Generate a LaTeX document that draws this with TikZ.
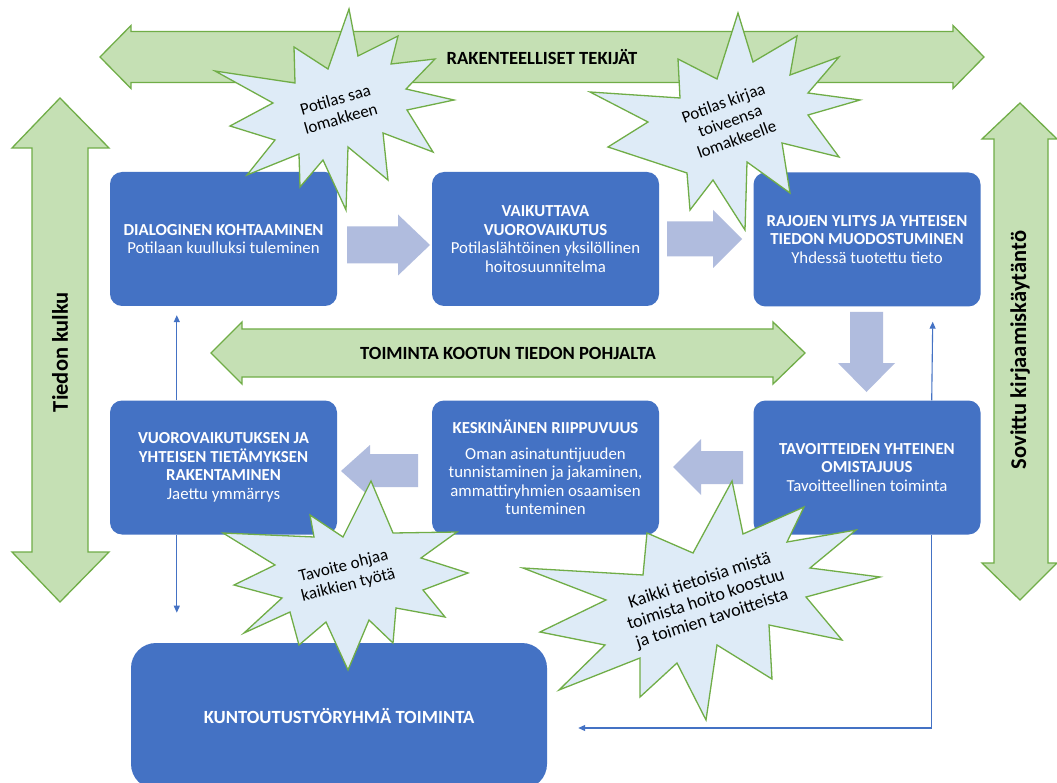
\documentclass[tikz,border=0pt]{standalone}
\usepackage{fontspec}
\setmainfont{Carlito}
\usetikzlibrary{arrows.meta}
\definecolor{boxblue}{HTML}{4472C4}
\definecolor{bandgreen}{HTML}{C5E0B4}
\definecolor{edgegreen}{HTML}{70AD47}
\definecolor{steplilac}{RGB}{176,188,222}
\definecolor{burstblue}{HTML}{DEEBF7}

\begin{document}
\begin{tikzpicture}[x=1pt,y=-1pt]
\tikzstyle{every node}+=[inner sep=0pt]
\tikzstyle{stage}=[fill=boxblue, rounded corners=12pt, minimum width=227pt, minimum height=134pt, text=white, align=center, font=\fontsize{16.8}{18.6}\selectfont]
\tikzstyle{band}=[fill=bandgreen, draw=edgegreen, line width=1.3pt, line join=miter]
\tikzstyle{bandtext}=[font=\bfseries\fontsize{18.6}{21}\selectfont]
\tikzstyle{sidetext}=[font=\bfseries\fontsize{22.5}{26}\selectfont, rotate=90]
\tikzstyle{lilacarrow}=[fill=steplilac]
\tikzstyle{flow}=[draw=boxblue, line width=1.1pt, -{Triangle[length=7pt,width=6pt]}]
\tikzstyle{burst}=[fill=burstblue, draw=edgegreen, line width=1.3pt, line join=miter]
\tikzstyle{bursttext}=[align=center, font=\fontsize{17}{19.5}\selectfont]
\useasboundingbox (0,0) rectangle (1057,783);
\fill[white] (0,0) rectangle (1057,783);

\draw[band] (100,57) -- (131,25.5) -- (131,31.5) -- (953,31.5) -- (953,25.5) -- (984,57) -- (953,88.5) -- (953,82.5) -- (131,82.5) -- (131,88.5) -- cycle;
\draw[band] (211,353) -- (242,322) -- (242,329) -- (773,329) -- (773,322) -- (805,353) -- (773,384) -- (773,377) -- (242,377) -- (242,384) -- cycle;
\draw[band] (60,98) -- (109,148) -- (88,148) -- (88,552) -- (109,552) -- (60,602) -- (12,552) -- (32,552) -- (32,148) -- (12,148) -- cycle;
\draw[band] (1020,103) -- (1057,139) -- (1048,139) -- (1048,563) -- (1057,563) -- (1020,600) -- (982,563) -- (994,563) -- (994,139) -- (982,139) -- cycle;
\node[bandtext] (structure) at (542,57) {RAKENTEELLISET TEKIJÄT};
\node[bandtext] (action) at (508,353) {TOIMINTA KOOTUN TIEDON POHJALTA};
\node[sidetext] (infoflow) at (60,352) {Tiedon kulku};
\node[sidetext] (recording) at (1020,350) {Sovittu kirjaamiskäytäntö};

\node[stage] (dialog) at (223.5,239) {\textbf{DIALOGINEN KOHTAAMINEN}\\Potilaan kuulluksi tuleminen};
\node[stage] (effect) at (545.5,239) {\textbf{VAIKUTTAVA}\\\textbf{VUOROVAIKUTUS}\\Potilaslähtöinen yksilöllinen\\hoitosuunnitelma};
\node[stage] (border) at (867,239.5) {\textbf{RAJOJEN YLITYS JA YHTEISEN}\\\textbf{TIEDON MUODOSTUMINEN}\\Yhdessä tuotettu tieto};
\node[stage] (shared) at (223.5,467.5) {\textbf{VUOROVAIKUTUKSEN JA}\\\textbf{YHTEISEN TIETÄMYKSEN}\\\textbf{RAKENTAMINEN}\\Jaettu ymmärrys};
\node[stage] (mutual) at (545.5,467.5) {\textbf{KESKINÄINEN RIIPPUVUUS}\\[7pt]Oman asinatuntijuuden\\tunnistaminen ja jakaminen,\\ammattiryhmien osaamisen\\tunteminen};
\node[stage] (goals) at (867,467.5) {\textbf{TAVOITTEIDEN YHTEINEN}\\\textbf{OMISTAJUUS}\\Tavoitteellinen toiminta};
\node[stage, minimum width=416pt, minimum height=146pt, rounded corners=25pt, font=\fontsize{18.6}{21}\selectfont] (team) at (339,716) {\textbf{KUNTOUTUSTYÖRYHMÄ TOIMINTA}};

\fill[lilacarrow] (347,226.5) -- (398,226.5) -- (398,214.5) -- (430,245) -- (398,275.5) -- (398,263.5) -- (347,263.5) -- cycle;
\fill[lilacarrow] (667,221.5) -- (713,221.5) -- (713,210) -- (742,239) -- (713,268) -- (713,256.5) -- (667,256.5) -- cycle;
\fill[lilacarrow] (850,312) -- (883,312) -- (883,363) -- (895,363) -- (866.5,392) -- (838,363) -- (850,363) -- cycle;
\fill[lilacarrow] (743,451) -- (701,451) -- (701,439) -- (673,467) -- (701,495) -- (701,484) -- (743,484) -- cycle;
\fill[lilacarrow] (418,454) -- (370,454) -- (370,445) -- (341,471) -- (370,497) -- (370,487) -- (418,487) -- cycle;

\draw[flow] ([xshift=67pt]shared.north west) -- ([xshift=67pt,yshift=-9pt]dialog.south west);
\draw[flow] ([xshift=67pt]shared.south west) -- ++(0,78);
\draw[flow] ([xshift=-49pt]goals.north east) -- ([xshift=-48pt,yshift=-15pt]border.south east);
\draw[flow] ([xshift=-49pt]goals.south east) |- ([xshift=31pt,yshift=-12pt]team.east);

\draw[burst] (349,9) -- (358,56) -- (398,36) -- (391,64) -- (435,59) -- (406,89) -- (454,100) -- (407,110) -- (433,152) -- (383,133) -- (388,180) -- (348,147) -- (346,210) -- (323,160) -- (300,187) -- (299,154) -- (247,175) -- (275,140) -- (230,126) -- (273,103) -- (215,71) -- (295,83) -- (294,47) -- (328,69) -- cycle;
\draw[burst] (738,13) -- (753,62) -- (797,36) -- (790,75) -- (839,57) -- (808,93) -- (860,100) -- (808,115) -- (839,157) -- (782,143) -- (790,193) -- (747,162) -- (745,230) -- (713,180) -- (690,210) -- (687,173) -- (608,147) -- (648,122) -- (590,92) -- (680,98) -- (678,59) -- (717,79) -- cycle;
\draw[burst] (371,481) -- (393,533) -- (457,532) -- (421,558) -- (468,573) -- (423,590) -- (445,617) -- (396,608) -- (393,643) -- (369,620) -- (348,670) -- (326,622) -- (299,645) -- (290,612) -- (244,633) -- (282,598) -- (234,585) -- (275,565) -- (223,533) -- (314,537) -- (310,515) -- (343,537) -- cycle;
\draw[burst] (732,481) -- (743,534) -- (804,507) -- (787,542) -- (856,530) -- (810,568) -- (880,577) -- (806,597) -- (842,640) -- (769,625) -- (772,679) -- (717,645) -- (706,720) -- (677,663) -- (640,697) -- (640,658) -- (559,690) -- (605,645) -- (540,632) -- (606,600) -- (523,568) -- (643,575) -- (647,533) -- (693,553) -- cycle;
\node[bursttext, rotate=16] (form) at (338,109) {Potilas saa\\lomakkeen};
\node[bursttext, rotate=20] (wishes) at (730,121) {Potilas kirjaa\\toiveensa\\lomakkeelle};
\node[bursttext, rotate=14] (aim) at (346,576) {Tavoite ohjaa\\kaikkien työtä};
\node[bursttext, rotate=18, font=\fontsize{18}{20}\selectfont] (aware) at (706,600) {Kaikki tietoisia mistä\\toimista hoito koostuu\\ja toimien tavoitteista};
\end{tikzpicture}
\end{document}
